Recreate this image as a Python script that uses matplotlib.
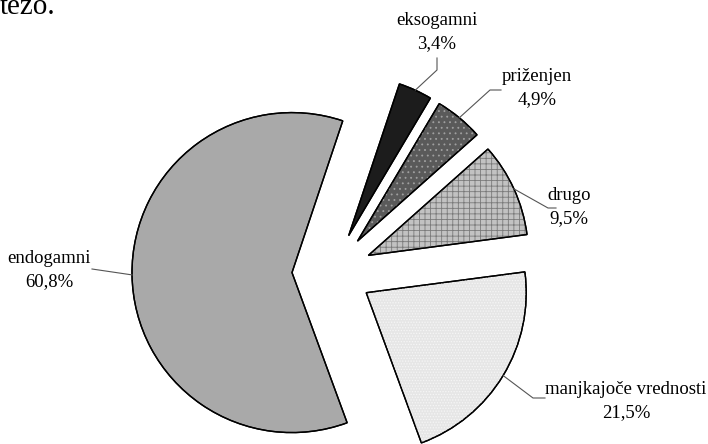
import matplotlib
matplotlib.use("Agg")
import matplotlib.pyplot as plt
import numpy as np

# Data (clockwise from top)
categories = ["eksogamni", "priženjen", "drugo", "manjkajoče vrednosti", "endogamni"]
values = [3.4, 4.9, 9.5, 21.5, 60.8]
value_labels = ["3,4%", "4,9%", "9,5%", "21,5%", "60,8%"]

plt.rcParams['font.family'] = ['Liberation Serif', 'DejaVu Serif']
plt.rcParams['hatch.linewidth'] = 0.6

W, H = 708, 444
fig = plt.figure(figsize=(W / 100, H / 100), dpi=100)
ax = fig.add_axes([0, 0, 1, 1])

cx, cy = 332, H - 272
R = 160
expl = 40  # explode offset in data units (pixels)
facecolors = ["#1c1c1c", "#5a5a5a", "#c2c2c2", "#e6e6e6", "#a9a9a9"]
hatches = [None, "...", "+++", "......", None]
hatchcolors = [None, "#a0a0a0", "#7a7a7a", "#f6f6f6", None]

common = dict(explode=[expl] * len(values), startangle=71.5,
              counterclock=False, radius=R, center=(cx, cy))

wedges, _ = ax.pie(values, colors=facecolors,
                   wedgeprops=dict(edgecolor="black", linewidth=1.0), **common)
over, _ = ax.pie(values, wedgeprops=dict(fill=False, linewidth=0), **common)
for w, h, hc in zip(over, hatches, hatchcolors):
    if h is None:
        w.set_visible(False)
    else:
        w.set_hatch(h)
        w.set_edgecolor(hc)
        w.set_linewidth(0)
for w in wedges:
    w.set_zorder(1)
for w in over:
    w.set_zorder(2)
outl, _ = ax.pie(values, wedgeprops=dict(fill=False, edgecolor="black", linewidth=1.0),
                 **common)
for w in outl:
    w.set_zorder(3)

ax.set_xlim(0, W)
ax.set_ylim(0, H)
ax.set_aspect('equal')
ax.axis('off')

# label layout (pixel coordinates, y from top)
text_pos = [(437, 32), (537, 88), (569, 207), (626, 401), (49, 270)]
elbows = [[(437, 70), (437, 58)], [(490, 90), (501, 90)], [(548, 208), (556, 208)],
          [(533, 398), (545, 398)], [(92, 269)]]

for w, cat, vl, tp, el in zip(wedges, categories, value_labels, text_pos, elbows):
    mid = np.deg2rad((w.theta1 + w.theta2) / 2)
    ax_x = w.center[0] + w.r * np.cos(mid)
    ax_y = w.center[1] + w.r * np.sin(mid)
    xs = [ax_x] + [p[0] for p in el]
    ys = [ax_y] + [H - p[1] for p in el]
    ax.plot(xs, ys, color="#555555", lw=0.8, zorder=4)
    ax.text(tp[0], H - tp[1], f"{cat}\n{vl}", ha="center", va="center",
            fontsize=13.5, linespacing=1.5, color="black", zorder=5)

ax.text(0, H - 14, "težo.", ha="left", va="baseline", fontsize=21, color="black")

fig.savefig("out.png", dpi=100)
